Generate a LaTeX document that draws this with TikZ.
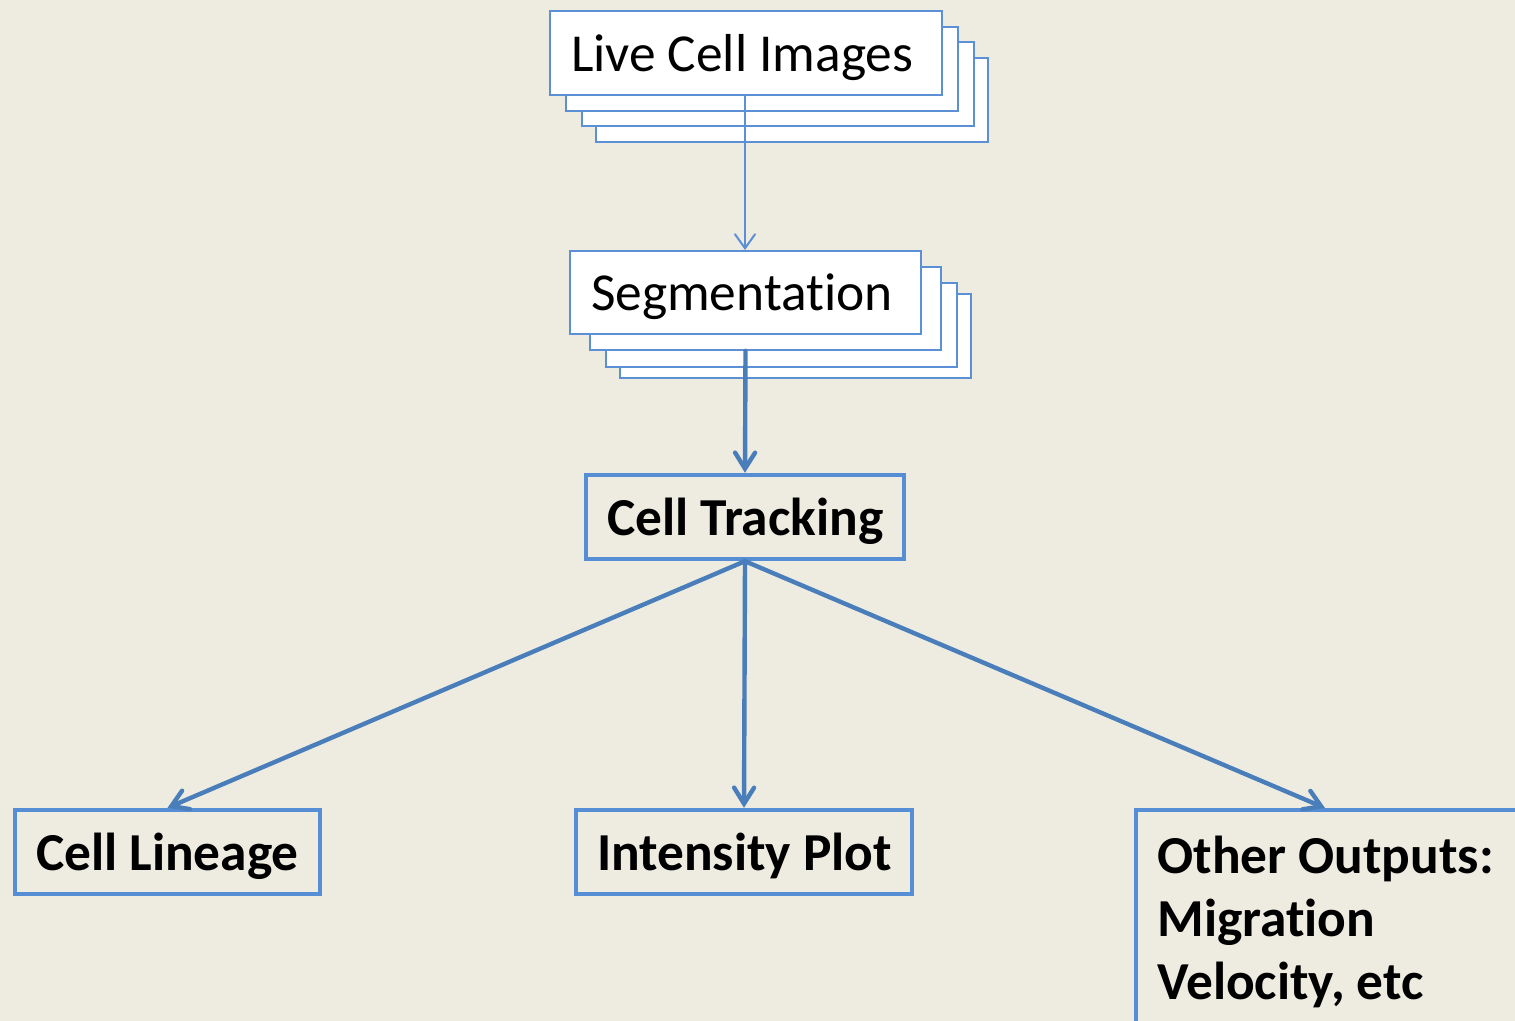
\documentclass[tikz,border=0pt]{standalone}
\usepackage{fontspec}
\setmainfont{Carlito}[Ligatures=NoCommon]
\usetikzlibrary{arrows.meta}
\definecolor{bg}{HTML}{EEECE1}
\definecolor{thinblue}{HTML}{5B8FD6}
\definecolor{boxblue}{HTML}{558ED5}
\definecolor{arrblue}{HTML}{4A7EBB}
\tikzset{
  layer/.style={draw=thinblue, fill=white, line width=0.8pt},
  frontbox/.style={draw=thinblue, fill=white, line width=0.8pt, inner xsep=10.5pt, inner ysep=0pt,
    text height=23.5pt, text depth=5pt, font=\fontsize{26.7}{31.5}\selectfont},
  outbox/.style={draw=boxblue, line width=2.2pt, inner xsep=10.5pt, inner ysep=0pt,
    text height=23.5pt, text depth=5pt, font=\bfseries\fontsize{26.7}{31.5}\selectfont},
  thinarrow/.style={draw=thinblue, line width=1pt, -{Straight Barb[length=7pt,width=10pt,line cap=round]}},
  thickarrow/.style={draw=arrblue, line width=2.2pt, line cap=round, -{Straight Barb[length=8pt,width=10pt,line cap=round]}}
}
\begin{document}
\begin{tikzpicture}[x=0.5pt, y=-0.5pt]
\path[use as bounding box, fill=bg] (0,0) rectangle (1515,1021);
\clip (0,0) rectangle (1515,1021);
% Live Cell Images stack
\draw[layer] (596,58) rectangle (988,142);
\draw[layer] (582,42) rectangle (974,126);
\draw[layer] (566,27) rectangle (958,111);
\node[frontbox, minimum width=196pt, minimum height=42pt] (live) at (746,53) {\makebox[175pt][l]{Live Cell Images}};
% Segmentation stack
\draw[layer] (620,294) rectangle (971,378);
\draw[layer] (606,283) rectangle (957,367);
\draw[layer] (590,267) rectangle (941,350);
\node[frontbox, minimum width=175.5pt, minimum height=41.5pt] (seg) at (745.5,292.5) {\makebox[154.5pt][l]{Segmentation}};
% Cell Tracking
\node[outbox, minimum width=159pt, minimum height=42pt] (trk) at (745,517) {\makebox[138pt][l]{Cell Tracking}};
% outputs
\node[outbox, minimum width=152.5pt, minimum height=42pt] (lin) at (167.5,852) {\makebox[131.5pt][l]{Cell Lineage}};
\node[outbox, minimum width=168pt, minimum height=42pt] (int) at (744,852) {\makebox[147pt][l]{Intensity Plot}};
\draw[draw=boxblue, line width=2.2pt] (1600,810) -- (1136,810) -- (1136,1100);
\node[anchor=north west, inner sep=0pt, align=left, font=\bfseries\fontsize{26.7}{31.5}\selectfont] (oth) at (1157,836) {Other Outputs:\\Migration\\Velocity, etc};
\coordinate (othtop) at (1325,808);
% arrows
\draw[thinarrow] (live.south -| 745,0) -- (745,250);
\draw[thickarrow] ([yshift=-8pt]seg.south) -- (trk.north);
\draw[thickarrow] (trk.south) -- (lin.north);
\draw[thickarrow] (trk.south) -- (int.north);
\draw[thickarrow] (trk.south) -- (othtop);
\end{tikzpicture}
\end{document}
